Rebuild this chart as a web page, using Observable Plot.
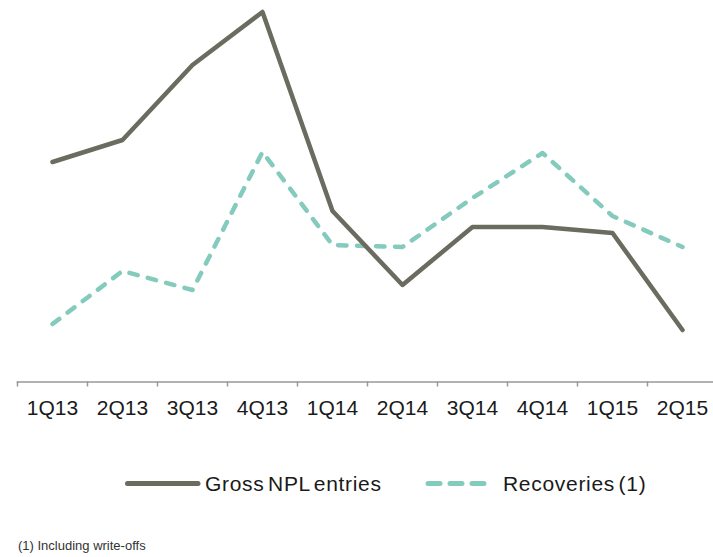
<!DOCTYPE html>
<html>
<head>
<meta charset="utf-8">
<script src="https://cdn.jsdelivr.net/npm/d3@7"></script>
<script src="https://cdn.jsdelivr.net/npm/@observablehq/plot@0.6"></script>
<style>
  html, body { margin: 0; padding: 0; background: #fff; }
  #wrap { position: relative; width: 713px; height: 557px; overflow: hidden; font-family: "Liberation Sans", Arial, sans-serif; }
  #chart { position: absolute; left: 0; top: 0; }
  .leg { position: absolute; top: 472px; font-size: 21px; color: #1a1a1a; letter-spacing: 0.7px; word-spacing: -3px; line-height: 24px; white-space: nowrap; }
  .sw { position: absolute; top: 470px; }
  #note { position: absolute; left: 18px; top: 538px; font-size: 13px; color: #333; white-space: nowrap; }
</style>
</head>
<body>
<div id="wrap">
  <div id="chart"></div>
  <svg class="sw" style="left:120px" width="90" height="28">
    <line x1="7.5" y1="13.5" x2="78" y2="13.5" stroke="#6b6b5f" stroke-width="5" stroke-linecap="round"/>
  </svg>
  <div class="leg" style="left:205px">Gross NPL entries</div>
  <svg class="sw" style="left:420px" width="80" height="28">
    <line x1="8" y1="13.5" x2="67" y2="13.5" stroke="#84cbbe" stroke-width="5" stroke-linecap="round" stroke-dasharray="12,10"/>
  </svg>
  <div class="leg" style="left:503px">Recoveries (1)</div>
  <div id="note">(1) Including write-offs</div>
</div>
<script>
const quarters = ["1Q13","2Q13","3Q13","4Q13","1Q14","2Q14","3Q14","4Q14","1Q15","2Q15"];
const grossNPL = [220, 242, 317, 370, 171, 97, 155, 155, 149, 52];
const recoveries = [58, 111, 92, 230, 137, 135, 184, 229, 166, 135];

const grossData = quarters.map((q, i) => ({q, v: grossNPL[i]}));
const recData = quarters.map((q, i) => ({q, v: recoveries[i]}));

const W = 713, H = 430, mL = 16.7, mT = 11.5, mB = 48.5;
const band = (717 - mL) / quarters.length;

const chart = Plot.plot({
  width: W,
  height: H,
  marginLeft: mL,
  marginRight: 0,
  marginTop: mT,
  marginBottom: mB,
  style: {fontFamily: "'Liberation Sans', Arial, sans-serif", background: "transparent"},
  x: {type: "point", domain: quarters, range: [mL, 717], padding: 0.5},
  y: {domain: [0, 370], axis: null},
  marks: [
    Plot.ruleY([0], {stroke: "#999", strokeWidth: 1.5}),
    Plot.ruleX(quarters, {x: d => d, dx: -band / 2, insetTop: H - mT - mB, insetBottom: -5, stroke: "#999", strokeWidth: 1.5}),
    Plot.axisX({tickSize: 0, tickPadding: 18, fontSize: 21, fill: "#1a1a1a", label: null}),
    Plot.lineY(recData, {x: "q", y: "v", stroke: "#84cbbe", strokeWidth: 4.5, strokeDasharray: "8.5,10.5", strokeLinecap: "round"}),
    Plot.lineY(grossData, {x: "q", y: "v", stroke: "#6b6b5f", strokeWidth: 4.5, strokeLinecap: "round"})
  ]
});
document.getElementById("chart").appendChild(chart);
</script>
</body>
</html>
